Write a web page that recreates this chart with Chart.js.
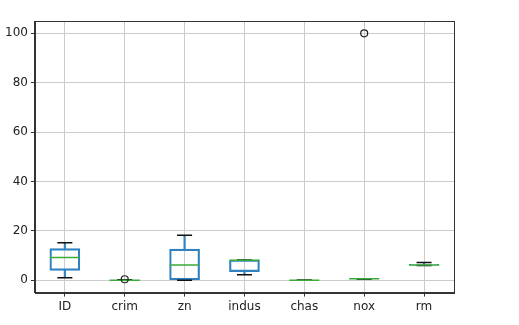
<!DOCTYPE html>
<html>
<head>
<meta charset="utf-8">
<script src="https://cdn.jsdelivr.net/npm/chart.js@4.4.1/dist/chart.umd.min.js"></script>
<style>
  html, body { margin: 0; padding: 0; background: #fff; }
</style>
</head>
<body>
<canvas id="myChart" width="519" height="325"></canvas>
<script>
const categories = ['ID', 'crim', 'zn', 'indus', 'chas', 'nox', 'rm'];

// box plot stats
const whiskerLow = [1, 0, 0, 2.2, 0, 0.5, 6.0];
const q1 = [4, 0.02, 0, 3.5, 0, 0.5, 6.1];
const median = [9.2, 0.05, 6.2, 8.1, 0, 0.6, 6.2];
const q3 = [12.8, 0.08, 12.6, 8.2, 0, 0.6, 6.5];
const whiskerHigh = [15.2, 0.2, 18.2, 8.2, 0, 0.6, 7.2];
const outliers = [null, 0.4, null, null, null, 100, null];

const yTicks = [0, 20, 40, 60, 80, 100];

const blue = '#2f82bf';
const green = '#3aac3a';

const ctx = document.querySelector('#myChart').getContext('2d');

// frame round the plot area, like matplotlib spines
const frame = {
    id: 'frame',
    afterDatasetsDraw(chart) {
        const a = chart.chartArea;
        const c = chart.ctx;
        c.save();
        c.strokeStyle = '#333';
        c.lineWidth = 1;
        c.strokeRect(Math.round(a.left) + 0.5, Math.round(a.top) + 0.5,
            Math.round(a.right - a.left), Math.round(a.bottom - a.top));
        c.restore();
    }
};

const pairs = (lo, hi) => lo.map((v, i) => [v, hi[i]]);

// datasets listed first are drawn on top
const data = {
    labels: categories,
    datasets: [
        {
            type: 'line',
            data: outliers,
            showLine: false,
            pointStyle: 'circle',
            pointRadius: 3.5,
            borderColor: '#222',
            backgroundColor: 'rgba(0,0,0,0)',
            borderWidth: 1.2,
        },
        {
            type: 'line',
            data: median,
            showLine: false,
            pointStyle: 'line',
            pointRadius: 15,
            borderColor: green,
            borderWidth: 1.5,
        },
        {
            type: 'line',
            data: whiskerHigh,
            showLine: false,
            pointStyle: 'line',
            pointRadius: 7.5,
            borderColor: '#111',
            borderWidth: 1.5,
        },
        {
            type: 'line',
            data: whiskerLow,
            showLine: false,
            pointStyle: 'line',
            pointRadius: 7.5,
            borderColor: '#111',
            borderWidth: 1.5,
        },
        {
            data: pairs(q3, whiskerHigh),
            backgroundColor: blue,
            borderWidth: 0,
            barThickness: 1.5,
            grouped: false,
        },
        {
            data: pairs(whiskerLow, q1),
            backgroundColor: blue,
            borderWidth: 0,
            barThickness: 1.5,
            grouped: false,
        },
        {
            data: pairs(q1, q3),
            backgroundColor: 'rgba(0,0,0,0)',
            borderColor: blue,
            borderWidth: 1.5,
            borderSkipped: false,
            barThickness: 30,
            grouped: false,
        },
    ],
};

const tickFont = { family: 'DejaVu Sans', size: 12 };

const config = {
    type: 'bar',
    data: data,
    plugins: [frame],
    options: {
        responsive: false,
        animation: false,
        layout: { padding: { left: 2, right: 65, top: 21, bottom: 8 } },
        plugins: {
            legend: { display: false },
            tooltip: { enabled: false },
        },
        scales: {
            x: {
                grid: {
                    offset: false,
                    color: '#cccccc',
                    lineWidth: 1,
                    tickColor: '#333',
                    tickLength: 4,
                },
                border: { color: '#333' },
                ticks: { color: '#222', font: tickFont, padding: 3, maxRotation: 0 },
            },
            y: {
                min: -5,
                max: 105,
                afterBuildTicks: (scale) => {
                    scale.ticks = yTicks.map(v => ({ value: v }));
                },
                grid: {
                    color: '#cccccc',
                    lineWidth: 1,
                    tickColor: '#333',
                    tickLength: 4,
                },
                border: { color: '#333' },
                ticks: { color: '#222', font: tickFont, padding: 3 },
            },
        },
    },
};

const myChart = new Chart(ctx, config);
</script>
</body>
</html>
